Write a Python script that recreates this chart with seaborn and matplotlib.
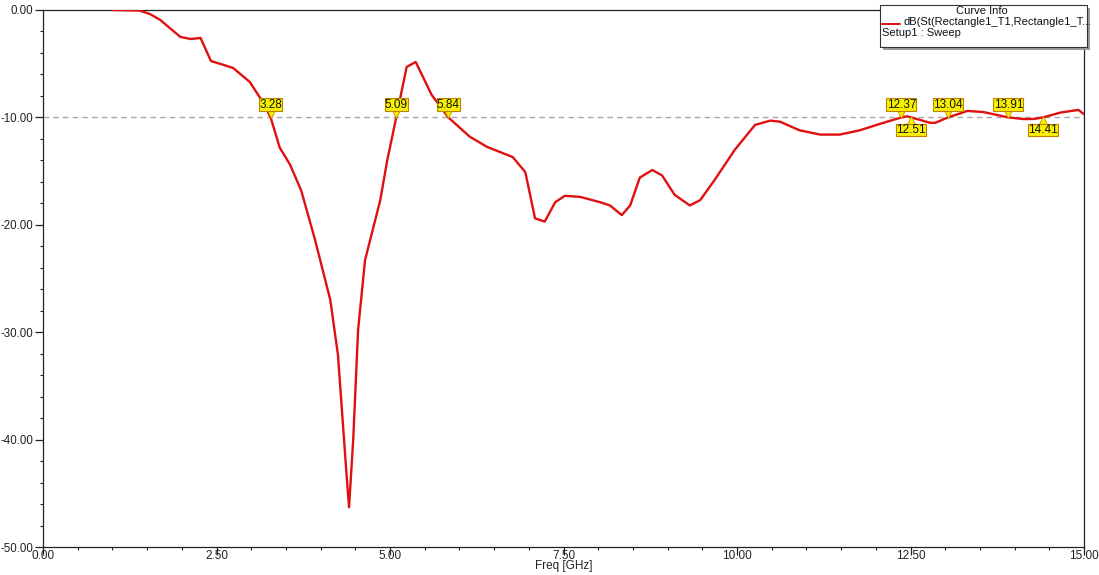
import matplotlib
matplotlib.use("Agg")
import matplotlib.pyplot as plt
import matplotlib.transforms as mtransforms
from matplotlib.ticker import MultipleLocator, FormatStrFormatter
from matplotlib.patches import Rectangle
import seaborn as sns
import pandas as pd

# S11 sweep (frequency in GHz, return loss in dB)
freq_ghz = [1.00, 1.39, 1.54, 1.69, 1.98, 2.13, 2.27, 2.42, 2.62, 2.74, 2.98, 3.17,
            3.28, 3.41, 3.56, 3.72, 3.92, 4.14, 4.25, 4.38, 4.41, 4.47, 4.54, 4.64,
            4.86, 4.96, 5.09, 5.24, 5.37, 5.60, 5.84, 6.15, 6.40, 6.77, 6.95, 7.09,
            7.23, 7.38, 7.52, 7.74, 8.03, 8.17, 8.34, 8.46, 8.60, 8.78, 8.92, 9.10,
            9.32, 9.47, 9.68, 9.97, 10.26, 10.48, 10.62, 10.90, 11.20, 11.48, 11.77,
            12.06, 12.37, 12.45, 12.51, 12.78, 12.86, 13.04, 13.32, 13.55, 13.91,
            14.12, 14.27, 14.41, 14.66, 14.92, 15.00]
s11_db = [0.00, -0.05, -0.37, -0.93, -2.51, -2.70, -2.60, -4.75, -5.15, -5.40, -6.70, -8.60,
          -10.00, -12.80, -14.40, -16.80, -21.40, -27.00, -32.10, -43.80, -46.30, -40.00, -29.80, -23.30,
          -17.70, -14.00, -10.00, -5.30, -4.84, -7.90, -10.00, -11.80, -12.75, -13.70, -15.10, -19.40,
          -19.70, -17.90, -17.30, -17.40, -17.90, -18.20, -19.10, -18.20, -15.60, -14.90, -15.40, -17.20,
          -18.20, -17.70, -15.80, -13.00, -10.70, -10.30, -10.40, -11.20, -11.60, -11.60, -11.20,
          -10.60, -10.00, -9.90, -10.00, -10.50, -10.50, -10.00, -9.40, -9.50, -10.00,
          -10.15, -10.15, -10.00, -9.55, -9.30, -9.70]

# -10 dB crossing markers: frequency, flag placed above (True) or below (False)
marker_freq = [3.28, 5.09, 5.84, 12.37, 12.51, 13.04, 13.91, 14.41]
marker_above = [True, True, True, True, False, True, True, False]
ref_level_db = -10.0

x_ticks = [0.0, 2.5, 5.0, 7.5, 10.0, 12.5, 15.0]
y_ticks = [0.0, -10.0, -20.0, -30.0, -40.0, -50.0]

sns.set_style("ticks")
plt.rcParams["font.family"] = ["Liberation Sans", "DejaVu Sans"]

fig = plt.figure(figsize=(10.99, 5.75), dpi=100)
ax = fig.add_axes([43 / 1099, 1 - 547 / 575, (1084 - 43) / 1099, (547 - 10) / 575])

df = pd.DataFrame({"Freq [GHz]": freq_ghz, "dB": s11_db})
sns.lineplot(data=df, x="Freq [GHz]", y="dB", ax=ax, color="#e01010",
             linewidth=1.7, zorder=3)

ax.axhline(ref_level_db, color="#a8a8a8", linestyle=(0, (4, 3)), linewidth=1.0, zorder=1)

ax.set_xlim(0, 15)
ax.set_ylim(-50, 0)
ax.set_xticks(x_ticks)
ax.set_yticks(y_ticks)
ax.xaxis.set_major_formatter(FormatStrFormatter("%.2f"))
ax.yaxis.set_major_formatter(FormatStrFormatter("%.2f"))
ax.xaxis.set_minor_locator(MultipleLocator(0.5))
ax.yaxis.set_minor_locator(MultipleLocator(2))
ax.tick_params(axis="x", which="major", length=6, width=0.9, pad=-4,
               labelsize=8.5, colors="#222222")
ax.tick_params(axis="y", which="major", length=6, width=0.9, pad=1.2,
               labelsize=8.3, colors="#222222")
ax.tick_params(which="minor", length=2.5, width=0.8, colors="#222222")
ax.set_xlabel("Freq [GHz]", fontsize=8.5, labelpad=-1, color="#222222")
ax.set_ylabel("")
for side in ["left", "bottom", "top", "right"]:
    ax.spines[side].set_color("#222222")
    ax.spines[side].set_linewidth(0.9)

# Marker flags at the -10 dB crossings
for f, above in zip(marker_freq, marker_above):
    sign = 1 if above else -1
    tri_tr = mtransforms.offset_copy(ax.transData, fig=fig, x=0, y=sign * 3.6, units="points")
    ax.plot([f], [ref_level_db], marker="v" if above else "^", markersize=8.5,
            color="#f8f000", markeredgecolor="#c89000", markeredgewidth=0.6,
            transform=tri_tr, zorder=5, clip_on=False)
    ax.annotate(f"{f:.2f}", xy=(f, ref_level_db), xytext=(0, sign * 9.2),
                textcoords="offset points", ha="center", va="center",
                fontsize=8.5, color="#111111", zorder=6,
                bbox=dict(boxstyle="square,pad=0.02", facecolor="#f8f000",
                          edgecolor="#c08000", linewidth=0.8))

# Curve info box in the top-right corner
bx0, by0, bw, bh = 880 / 1099, 1 - 47 / 575, 207 / 1099, 42 / 575
shadow = Rectangle((bx0 + 3 / 1099, by0 - 3 / 575), bw, bh, transform=fig.transFigure,
                   facecolor="#9a9a9a", edgecolor="none", zorder=9)
box = Rectangle((bx0, by0), bw, bh, transform=fig.transFigure,
                facecolor="white", edgecolor="#333333", linewidth=0.8, zorder=10)
fig.add_artist(shadow)
fig.add_artist(box)
fig.text(982 / 1099, 1 - 11 / 575, "Curve Info", ha="center", va="center",
         fontsize=8, color="#111111", zorder=11)
fig.add_artist(plt.Line2D([882 / 1099, 900 / 1099], [1 - 24 / 575, 1 - 24 / 575],
                          transform=fig.transFigure, color="#e01010",
                          linewidth=1.4, zorder=11))
fig.text(903 / 1099, 1 - 22 / 575, "dB(St(Rectangle1_T1,Rectangle1_T...",
         ha="left", va="center", fontsize=8, color="#111111", zorder=11)
fig.text(882 / 1099, 1 - 32.5 / 575, "Setup1 : Sweep", ha="left", va="center",
         fontsize=8, color="#111111", zorder=11)

fig.savefig("out.png", dpi=100)
